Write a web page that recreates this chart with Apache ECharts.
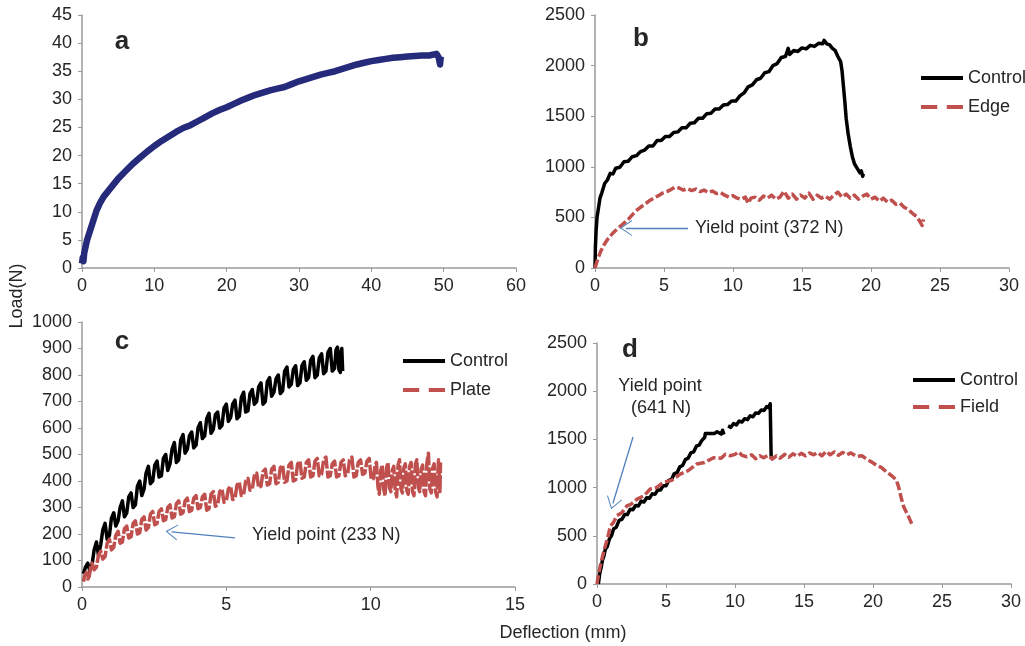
<!DOCTYPE html>
<html>
<head>
<meta charset="utf-8">
<script src="https://cdn.jsdelivr.net/npm/echarts@6/dist/echarts.min.js"></script>
<style>
html,body{margin:0;padding:0;background:#fff;}
#chart{width:1025px;height:646px;}
</style>
</head>
<body>
<div id="chart"></div>
<script>
// ---------- tick settings ----------
const aXTicks = {min: 0, max: 60, interval: 10};
const aYTicks = {min: 0, max: 45, interval: 5};
const bXTicks = {min: 0, max: 30, interval: 5};
const bYTicks = {min: 0, max: 2500, interval: 500};
const cXTicks = {min: 0, max: 15, interval: 5};
const cYTicks = {min: 0, max: 1000, interval: 100};
const dXTicks = {min: 0, max: 30, interval: 5};
const dYTicks = {min: 0, max: 2500, interval: 500};

// ---------- data: [deflection (mm), load (N)] ----------
const panelA = [[0,0.8],[0.1,1.8],[0.2,1.2],[0.3,2.6],[0.5,3.8],[0.7,5],[1,6.2],[1.3,7.4],[1.6,8.6],[2,10.2],[2.5,11.6],[3,12.7],[3.5,13.5],[4,14.3],[5,15.9],[6,17.2],[7,18.5],[8,19.6],[9,20.7],[10,21.7],[11,22.6],[12,23.4],[13,24.2],[14,24.9],[15,25.4],[16,26.1],[17,26.8],[18,27.5],[19,28.1],[20,28.6],[21,29.2],[22,29.8],[23,30.3],[24,30.8],[25,31.2],[26,31.6],[27,31.9],[28,32.2],[29,32.7],[30,33.2],[31,33.6],[32,34],[33,34.4],[34,34.7],[35,35],[36,35.4],[37,35.8],[38,36.2],[39,36.5],[40,36.8],[41,37],[42,37.2],[43,37.4],[44,37.5],[45,37.6],[46,37.7],[47,37.8],[48,37.8],[49,38.1],[49.3,37.5],[49.5,36.2],[49.6,37.6]];

const bControl = [[0,0],[0.03,210],[0.08,370],[0.15,505],[0.25,590],[0.36,690],[0.5,745],[0.7,835],[0.9,870],[1.1,935],[1.3,930],[1.5,985],[1.8,995],[2.1,1050],[2.4,1055],[2.7,1100],[3.0,1110],[3.3,1150],[3.6,1165],[3.9,1205],[4.2,1205],[4.5,1260],[4.8,1260],[5.1,1300],[5.4,1300],[5.7,1340],[6.0,1345],[6.3,1385],[6.6,1385],[6.9,1430],[7.2,1435],[7.5,1480],[7.8,1480],[8.1,1525],[8.4,1530],[8.7,1570],[9.0,1570],[9.3,1610],[9.6,1615],[9.9,1650],[10.2,1650],[10.5,1700],[10.8,1730],[11.1,1790],[11.4,1810],[11.7,1860],[12.0,1875],[12.3,1930],[12.6,1940],[12.9,2000],[13.2,2020],[13.5,2080],[13.8,2090],[14.0,2170],[14.1,2110],[14.4,2150],[14.7,2140],[15.0,2175],[15.3,2165],[15.6,2200],[15.9,2190],[16.2,2220],[16.5,2215],[16.6,2250],[16.8,2215],[17.0,2205],[17.2,2170],[17.4,2150],[17.6,2090],[17.8,2040],[17.9,1950],[18.0,1800],[18.1,1650],[18.2,1480],[18.35,1320],[18.5,1200],[18.65,1100],[18.8,1030],[19.0,985],[19.2,940],[19.3,960],[19.4,905],[19.45,930]];

const bEdge = [[0,0],[0.2,90],[0.4,160],[0.6,215],[0.8,260],[1.0,300],[1.3,345],[1.6,385],[1.9,420],[2.2,455],[2.5,495],[2.8,540],[3.1,580],[3.4,610],[3.7,640],[4.0,670],[4.3,695],[4.6,715],[4.9,740],[5.2,755],[5.5,775],[5.8,800],[6.1,790],[6.4,770],[6.7,785],[7.0,765],[7.3,780],[7.6,755],[7.9,770],[8.2,745],[8.5,760],[8.8,735],[9.1,745],[9.4,720],[9.7,700],[10.0,715],[10.3,690],[10.6,680],[10.9,700],[11.1,640],[11.3,690],[11.6,700],[11.9,670],[12.2,710],[12.5,690],[12.8,720],[13.1,680],[13.4,700],[13.7,760],[14.0,690],[14.3,730],[14.6,680],[14.9,720],[15.2,690],[15.5,740],[15.8,680],[16.1,720],[16.4,690],[16.7,710],[17.0,680],[17.3,720],[17.6,750],[17.9,700],[18.2,730],[18.5,690],[18.8,720],[19.1,680],[19.4,710],[19.7,730],[20.0,680],[20.3,700],[20.6,660],[20.9,690],[21.2,650],[21.5,670],[21.8,630],[22.1,640],[22.4,600],[22.7,580],[23.0,540],[23.3,510],[23.5,470],[23.7,420],[23.8,480]];

const cControl = [[0.05,50],[0.12,75],[0.2,90],[0.27,60],[0.35,85],[0.42,140],[0.5,170],[0.57,120],[0.65,160],[0.72,215],[0.8,240],[0.87,180],[0.95,195],[1.02,260],[1.1,280],[1.17,230],[1.25,250],[1.32,300],[1.4,325],[1.47,265],[1.55,280],[1.62,340],[1.7,355],[1.77,300],[1.85,310],[1.92,380],[2.0,400],[2.07,345],[2.15,370],[2.22,430],[2.3,455],[2.37,390],[2.45,400],[2.52,460],[2.6,475],[2.67,415],[2.75,420],[2.82,485],[2.9,500],[2.97,440],[3.05,465],[3.12,520],[3.2,545],[3.27,470],[3.35,480],[3.42,555],[3.5,575],[3.57,505],[3.65,520],[3.72,570],[3.8,585],[3.87,525],[3.95,535],[4.02,600],[4.1,620],[4.17,560],[4.25,570],[4.32,635],[4.4,655],[4.47,580],[4.55,595],[4.62,650],[4.7,660],[4.77,600],[4.85,610],[4.92,675],[5.0,690],[5.07,625],[5.15,640],[5.22,690],[5.3,705],[5.37,635],[5.45,645],[5.52,715],[5.6,735],[5.67,660],[5.75,665],[5.82,730],[5.9,745],[5.97,690],[6.05,700],[6.12,755],[6.2,770],[6.27,690],[6.35,700],[6.42,775],[6.5,790],[6.57,720],[6.65,735],[6.72,785],[6.8,800],[6.87,730],[6.95,740],[7.02,815],[7.1,830],[7.17,755],[7.25,765],[7.32,820],[7.4,835],[7.47,760],[7.55,770],[7.62,835],[7.7,850],[7.77,780],[7.85,790],[7.92,855],[8.0,870],[8.07,790],[8.15,800],[8.22,865],[8.3,880],[8.37,805],[8.45,815],[8.52,885],[8.6,900],[8.67,815],[8.75,825],[8.8,895],[8.85,905],[8.9,820],[8.95,810],[8.98,890],[9.0,900],[9.03,815]];

const cPlate = [[0.05,20],[0.1,45],[0.15,55],[0.2,30],[0.25,40],[0.3,75],[0.35,90],[0.42,65],[0.5,75],[0.57,120],[0.65,135],[0.72,105],[0.8,115],[0.87,165],[0.95,180],[1.02,140],[1.1,150],[1.17,195],[1.25,210],[1.32,165],[1.4,170],[1.47,220],[1.55,230],[1.62,185],[1.7,190],[1.77,240],[1.85,250],[1.92,200],[2.0,205],[2.07,255],[2.15,265],[2.22,215],[2.3,225],[2.37,275],[2.45,285],[2.52,235],[2.6,240],[2.67,285],[2.75,295],[2.82,250],[2.9,255],[2.97,300],[3.05,310],[3.12,260],[3.2,265],[3.27,315],[3.35,325],[3.42,275],[3.5,280],[3.57,325],[3.65,335],[3.72,285],[3.8,290],[3.87,335],[3.95,345],[4.02,295],[4.1,300],[4.17,340],[4.25,350],[4.32,290],[4.4,295],[4.47,350],[4.55,360],[4.62,305],[4.7,310],[4.77,360],[4.85,370],[4.92,320],[5.0,325],[5.07,370],[5.15,380],[5.22,330],[5.3,335],[5.37,385],[5.45,395],[5.52,345],[5.6,350],[5.67,400],[5.75,410],[5.82,365],[5.9,370],[5.97,420],[6.05,430],[6.12,375],[6.2,380],[6.27,435],[6.35,445],[6.42,385],[6.5,390],[6.57,445],[6.65,455],[6.72,390],[6.8,395],[6.87,450],[6.95,460],[7.02,395],[7.1,400],[7.17,460],[7.25,470],[7.32,400],[7.4,405],[7.47,465],[7.55,475],[7.62,410],[7.7,415],[7.77,470],[7.85,480],[7.92,415],[8.0,420],[8.07,475],[8.15,485],[8.22,420],[8.3,425],[8.37,480],[8.45,490],[8.52,415],[8.6,420],[8.67,465],[8.75,475],[8.82,415],[8.9,420],[8.97,470],[9.05,480],[9.12,420],[9.2,425],[9.27,480],[9.35,490],[9.42,415],[9.5,420],[9.57,470],[9.65,480],[9.72,425],[9.8,430],[9.87,475],[9.95,485],[10.02,405],[10.1,410],[10.15,460],[10.2,470],[10.25,380],[10.3,350],[10.35,440],[10.4,460],[10.45,370],[10.5,345],[10.55,450],[10.6,470],[10.65,375],[10.7,360],[10.75,440],[10.8,455],[10.85,365],[10.9,340],[10.95,460],[11.0,480],[11.05,370],[11.1,355],[11.15,450],[11.2,465],[11.25,365],[11.3,350],[11.35,455],[11.4,470],[11.45,360],[11.5,345],[11.55,465],[11.6,480],[11.65,375],[11.7,360],[11.75,445],[11.8,460],[11.85,360],[11.9,345],[11.95,470],[12.0,505],[12.05,370],[12.1,355],[12.15,450],[12.2,465],[12.25,360],[12.3,340],[12.35,480],[12.4,360],[12.42,470]];

const dControl = [[0.1,0],[0.2,110],[0.3,170],[0.4,250],[0.5,290],[0.6,360],[0.75,390],[0.9,470],[1.05,500],[1.2,570],[1.4,590],[1.6,660],[1.8,670],[2.0,720],[2.2,720],[2.4,775],[2.6,770],[2.8,815],[3.0,810],[3.2,860],[3.4,850],[3.6,895],[3.8,890],[4.0,935],[4.2,930],[4.4,975],[4.6,975],[4.8,1020],[5.0,1020],[5.2,1075],[5.4,1085],[5.6,1145],[5.8,1155],[6.0,1215],[6.2,1230],[6.4,1290],[6.6,1305],[6.8,1360],[7.0,1370],[7.2,1430],[7.4,1440],[7.6,1490],[7.8,1520],[7.85,1560],[8.5,1560],[8.6,1545],[8.7,1580],[9.0,1555],[9.1,1595],[9.2,1550],[9.3,'-'],[9.5,1640],[9.7,1625],[9.9,1665],[10.1,1650],[10.3,1690],[10.5,1680],[10.7,1715],[10.9,1705],[11.1,1745],[11.3,1735],[11.5,1775],[11.7,1770],[11.9,1805],[12.1,1800],[12.3,1840],[12.45,1830],[12.55,1870],[12.6,1860],[12.62,1320]];

const dField = [[0,0],[0.1,90],[0.24,190],[0.4,285],[0.6,395],[0.8,495],[0.97,600],[1.2,640],[1.45,710],[1.8,740],[2.17,810],[2.5,830],[2.9,880],[3.4,915],[3.86,985],[4.3,1000],[4.83,1055],[5.4,1075],[6.03,1140],[6.6,1175],[7.24,1245],[7.8,1260],[8.45,1310],[9.0,1305],[9.3,1345],[9.65,1330],[10.0,1345],[10.26,1370],[10.5,1335],[10.86,1320],[11.2,1340],[11.5,1300],[11.8,1330],[12.07,1310],[12.4,1335],[12.7,1295],[13.0,1330],[13.27,1305],[13.6,1345],[13.9,1315],[14.2,1350],[14.5,1325],[14.8,1355],[15.1,1330],[15.4,1360],[15.7,1340],[16.0,1365],[16.3,1330],[16.6,1375],[16.9,1340],[17.2,1370],[17.5,1335],[17.8,1365],[18.1,1340],[18.4,1360],[18.8,1325],[19.2,1330],[19.55,1295],[19.9,1265],[20.27,1230],[20.6,1210],[21.0,1160],[21.3,1130],[21.5,1105],[21.7,1075],[21.85,1010],[22.0,920],[22.2,810],[22.4,750],[22.57,700],[22.7,660],[22.8,625]];

// yield-point arrows: [start, end] in data coordinates
const bArrow = [[6.74,395],[2.24,395]];
const cArrow = [[5.3,185],[3.1,208]];
const dArrow = [[2.61,1525],[1.15,835]];

// ---------- styling ----------
const FONT = "'Liberation Sans', Arial, Helvetica, sans-serif";
const AXIS_COLOR = '#9a9a9a';
const TEXT_COLOR = '#262626';
const RED = '#c0504d';
const ARROW_COLOR = '#4f81bd';
const arrowHead = 'path://M0,0 L10,14 L8.6,14 L0,2.2 L-8.6,14 L-10,14 Z';
const solidIcon = 'path://M0,0 L44,0 L44,4 L0,4 Z';
const dashIcon = 'path://M0,0 L17,0 L17,4 L0,4 Z M27,0 L44,0 L44,4 L27,4 Z';

function xAxis(idx, t) {
  return {
    type: 'value', gridIndex: idx, min: t.min, max: t.max, interval: t.interval,
    axisLine: {show: true, onZero: false, lineStyle: {color: AXIS_COLOR, width: 1.5}},
    axisTick: {show: true, length: 4, lineStyle: {color: AXIS_COLOR}},
    splitLine: {show: false},
    axisLabel: {color: TEXT_COLOR, fontSize: 18, fontFamily: FONT, margin: 9, showMaxLabel: true,
      formatter: v => String(v)}
  };
}
function yAxis(idx, t) {
  return {
    type: 'value', gridIndex: idx, min: t.min, max: t.max, interval: t.interval,
    axisLine: {show: true, onZero: false, lineStyle: {color: AXIS_COLOR, width: 1.5}},
    axisTick: {show: true, length: 4, lineStyle: {color: AXIS_COLOR}},
    splitLine: {show: false},
    axisLabel: {color: TEXT_COLOR, fontSize: 18, fontFamily: FONT, margin: 10,
      formatter: v => String(v)}
  };
}
function arrowMark(a) {
  return {
    silent: true, animation: false,
    symbol: ['none', arrowHead], symbolSize: [16, 12],
    lineStyle: {color: ARROW_COLOR, width: 1.3, type: 'solid'},
    itemStyle: {color: ARROW_COLOR},
    label: {show: false},
    emphasis: {disabled: true},
    data: [[{coord: a[0]}, {coord: a[1]}]]
  };
}
function lineSeries(name, idx, data, color, width, dash, mark) {
  const s = {
    name: name, type: 'line', xAxisIndex: idx, yAxisIndex: idx, data: data,
    symbol: 'none', showSymbol: false, smooth: false, connectNulls: false,
    lineStyle: {color: color, width: width, type: dash || 'solid', join: 'round'},
    itemStyle: {color: color},
    animation: false, silent: true
  };
  if (mark) s.markLine = mark;
  return s;
}
function legend(left, top, gap, names) {
  return {
    orient: 'vertical', left: left, top: top, itemWidth: 42, itemHeight: 4, itemGap: gap,
    selectedMode: false, symbolKeepAspect: false,
    textStyle: {color: TEXT_COLOR, fontSize: 18, fontFamily: FONT, lineHeight: 20},
    data: [
      {name: names[0], icon: solidIcon},
      {name: names[1], icon: dashIcon}
    ]
  };
}
function label(text, x, y, size, bold, align) {
  return {
    type: 'text', x: x, y: y, silent: true,
    style: {text: text, fill: TEXT_COLOR, font: (bold ? 'bold ' : '') + size + 'px ' + FONT,
      textAlign: align || 'left', textVerticalAlign: 'middle', align: align || 'left', verticalAlign: 'middle'}
  };
}

const chart = echarts.init(document.getElementById('chart'), null, {renderer: 'canvas'});
chart.setOption({
  animation: false,
  backgroundColor: '#ffffff',
  grid: [
    {left: 82, top: 15, width: 434, height: 253},
    {left: 595, top: 15, width: 414, height: 253},
    {left: 82, top: 322, width: 433, height: 265},
    {left: 597, top: 343, width: 414, height: 241}
  ],
  xAxis: [xAxis(0, aXTicks), xAxis(1, bXTicks), xAxis(2, cXTicks), xAxis(3, dXTicks)],
  yAxis: [yAxis(0, aYTicks), yAxis(1, bYTicks), yAxis(2, cYTicks), yAxis(3, dYTicks)],
  legend: [
    legend(916, 63, 9, ['Control', 'Edge']),
    legend(398, 346, 9, ['Control', 'Plate']),
    legend(908, 365, 7, ['Control', 'Field'])
  ],
  series: [
    lineSeries('Specimen', 0, panelA, '#262a7a', 6.5),
    lineSeries('Control', 1, bControl, '#000000', 3.5),
    lineSeries('Edge', 1, bEdge, RED, 3.5, [9, 3], arrowMark(bArrow)),
    lineSeries('Control', 2, cControl, '#000000', 3.5),
    lineSeries('Plate', 2, cPlate, RED, 3.5, [14, 2], arrowMark(cArrow)),
    lineSeries('Control', 3, dControl, '#000000', 3.5),
    lineSeries('Field', 3, dField, RED, 3.5, [9, 3], arrowMark(dArrow))
  ],
  graphic: [
    label('a', 122, 42, 26, true, 'center'),
    label('b', 641, 39, 26, true, 'center'),
    label('c', 122, 342, 26, true, 'center'),
    label('d', 630, 350, 26, true, 'center'),
    label('Yield point (372 N)', 695, 228, 18, false, 'left'),
    label('Yield point (233 N)', 252, 535, 18, false, 'left'),
    label('Yield point', 660, 386, 18, false, 'center'),
    label('(641 N)', 661, 408, 18, false, 'center'),
    label('Deflection (mm)', 563, 633, 18, false, 'center'),
    {type: 'text', x: 17, y: 296, rotation: Math.PI / 2, silent: true,
     style: {text: 'Load(N)', fill: TEXT_COLOR, font: '18px ' + FONT,
       textAlign: 'center', textVerticalAlign: 'middle', align: 'center', verticalAlign: 'middle'}}
  ]
});
</script>
</body>
</html>
